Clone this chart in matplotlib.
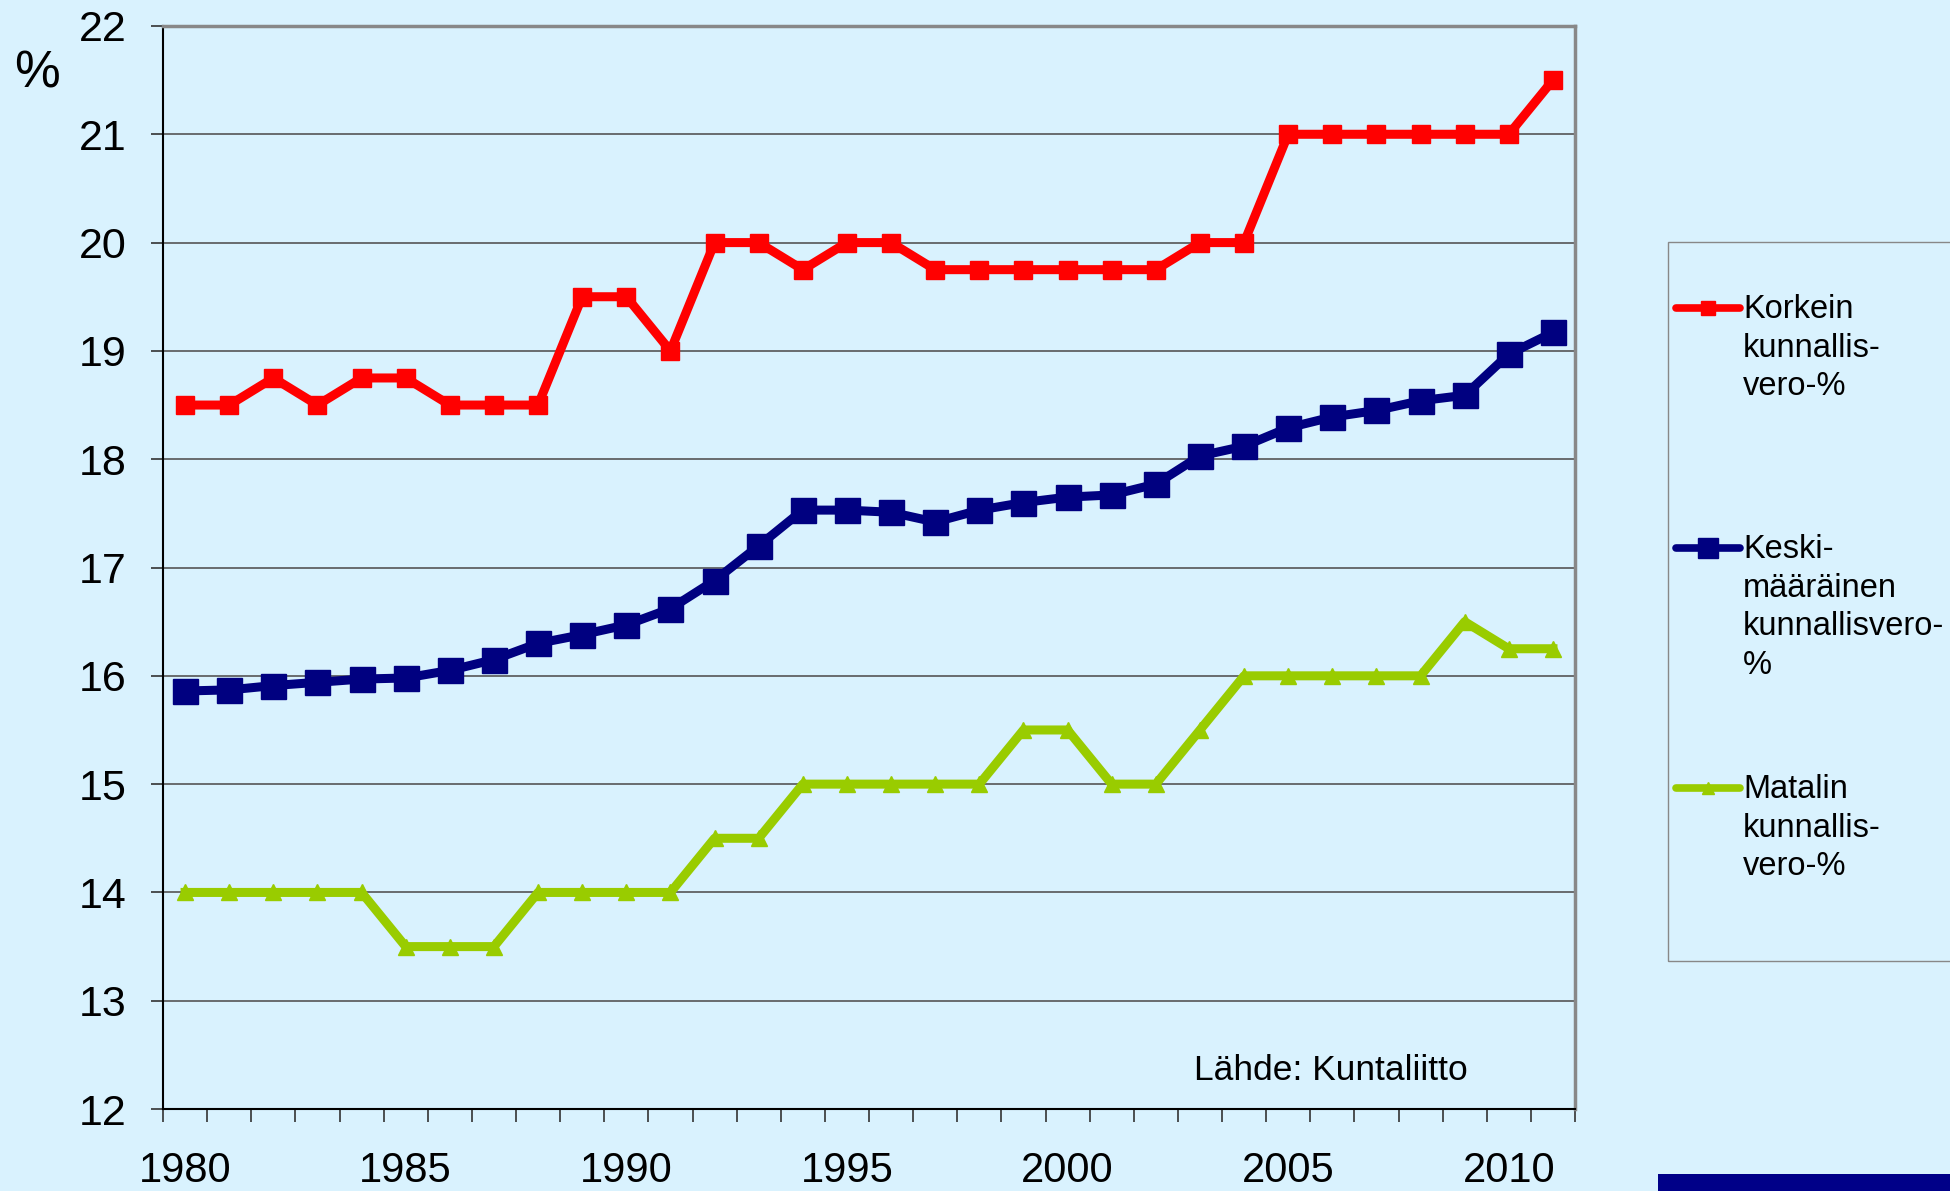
"""Kunnallisvero-% 1980-2011: korkein, keskimääräinen ja matalin."""
import matplotlib.pyplot as plt
from matplotlib.lines import Line2D
from matplotlib.patches import Rectangle

plt.rcParams['font.family'] = ['Liberation Sans', 'DejaVu Sans']

years = list(range(1980, 2012))
korkein = [18.5, 18.5, 18.75, 18.5, 18.75, 18.75, 18.5, 18.5, 18.5, 19.5,
           19.5, 19.0, 20.0, 20.0, 19.75, 20.0, 20.0, 19.75, 19.75, 19.75,
           19.75, 19.75, 19.75, 20.0, 20.0, 21.0, 21.0, 21.0, 21.0, 21.0,
           21.0, 21.5]
keskim = [15.86, 15.87, 15.91, 15.94, 15.97, 15.98, 16.05, 16.15, 16.30, 16.38,
          16.47, 16.62, 16.88, 17.20, 17.53, 17.53, 17.51, 17.42, 17.53, 17.60,
          17.65, 17.67, 17.77, 18.03, 18.12, 18.29, 18.39, 18.45, 18.54, 18.59,
          18.97, 19.17]
matalin = [14.0, 14.0, 14.0, 14.0, 14.0, 13.5, 13.5, 13.5, 14.0, 14.0,
           14.0, 14.0, 14.5, 14.5, 15.0, 15.0, 15.0, 15.0, 15.0, 15.5,
           15.5, 15.0, 15.0, 15.5, 16.0, 16.0, 16.0, 16.0, 16.0, 16.5,
           16.25, 16.25]

labels = ['Korkein\nkunnallis-\nvero-%',
          'Keski-\nmääräinen\nkunnallisvero-\n%',
          'Matalin\nkunnallis-\nvero-%']
colors = ['#FF0000', '#000080', '#99CC00']
bg = '#D9F2FE'

fig = plt.figure(figsize=(19.5, 11.91), dpi=100, facecolor=bg)
ax = fig.add_axes([0.0836, 0.0688, 0.7241, 0.9094])
ax.set_facecolor(bg)

x = list(range(len(years)))
series = [
    (korkein, colors[0], 's', 12.5, 6.5),
    (keskim, colors[1], 's', 18, 6.5),
    (matalin, colors[2], '^', 11, 6.5),
]
for vals, c, m, ms, lw in series:
    ax.plot(x, vals, color=c, marker=m, markersize=ms, linewidth=lw,
            markeredgecolor=c, zorder=3)

ax.set_xlim(-0.5, len(years) - 0.5)
ax.set_ylim(12, 22)
ax.set_yticks(range(12, 23))
ax.grid(axis='y', color='#555555', linewidth=1.2)
ax.set_axisbelow(True)

ax.set_xticks([i for i, y in enumerate(years) if y % 5 == 0])
ax.set_xticklabels([str(y) for y in years if y % 5 == 0])
ax.set_xticks([i - 0.5 for i in range(len(years) + 1)], minor=True)
ax.tick_params(axis='x', which='major', length=0, pad=30, labelsize=30)
ax.tick_params(axis='x', which='minor', length=9.4, width=1.2, color='#333333')
ax.tick_params(axis='y', length=9, width=1.2, pad=17, labelsize=31,
               color='#333333')

for s in ['left', 'bottom']:
    ax.spines[s].set_color('black')
    ax.spines[s].set_linewidth(1.5)
for s in ['top', 'right']:
    ax.spines[s].set_color('#888888')
    ax.spines[s].set_linewidth(2.5)

fig.text(37 / 1950, 1 - 74 / 1191, '%', fontsize=37, ha='center', va='center')
fig.text(1194 / 1950, 1 - 1070 / 1191, 'Lähde: Kuntaliitto', fontsize=25.5,
         ha='left', va='center')

# legend box, runs off the right edge
fig.add_artist(Rectangle((1668 / 1950, 1 - 961 / 1191), 0.3, (961 - 242) / 1191,
                         transform=fig.transFigure, facecolor='none',
                         edgecolor='#888888', linewidth=1))
leg_y = [308, 548, 788]
for (vals, c, m, ms, lw), lab, yy in zip(series, labels, leg_y):
    yf = 1 - yy / 1191
    fig.add_artist(Line2D([1676 / 1950, 1740 / 1950], [yf, yf], color=c,
                          linewidth=5.5, solid_capstyle='round',
                          transform=fig.transFigure))
    fig.add_artist(Line2D([1708 / 1950], [yf], color=c, marker=m,
                          markersize=ms * 0.8, transform=fig.transFigure))
    fig.text(1743 / 1950, yf + 14 / 1191, lab, fontsize=23.5, ha='left',
             va='top', linespacing=1.32)

# dark blue strip bottom right
fig.add_artist(Rectangle((1658 / 1950, 0), 1, 17 / 1191,
                         transform=fig.transFigure, facecolor='#000088',
                         edgecolor='none'))

plt.savefig('out.png', dpi=100, facecolor=bg)
plt.close()
